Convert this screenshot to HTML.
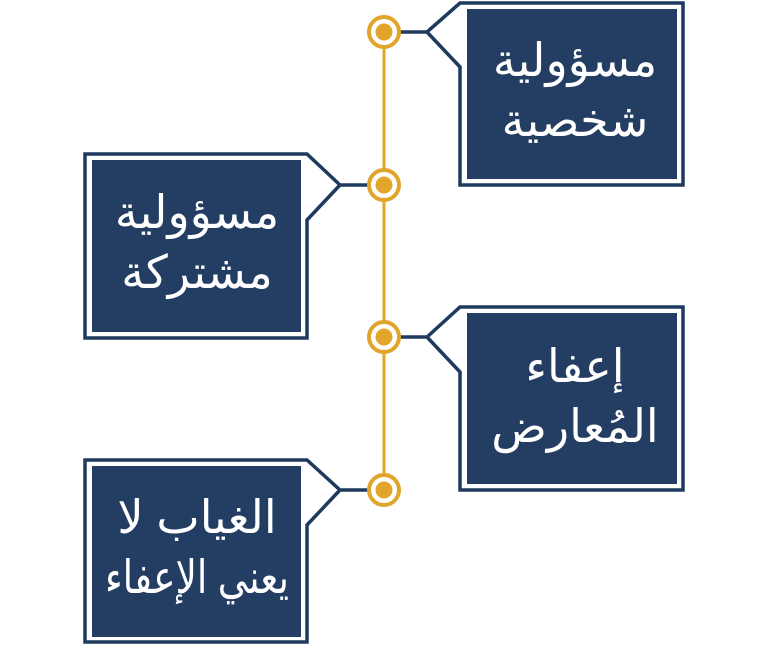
<!DOCTYPE html>
<html><head><meta charset="utf-8"><style>
body{margin:0;background:#fff;width:768px;height:644px;overflow:hidden}
svg text{font-family:"Liberation Sans","Noto Sans CJK SC","DejaVu Sans",sans-serif;fill:#fff;font-size:46px;text-anchor:middle}
</style></head><body>
<svg width="768" height="644" viewBox="0 0 768 644">
<line x1="384" y1="32" x2="384" y2="490" stroke="#E0A52A" stroke-width="3"/>
<g fill="none" stroke="#1F3A5F" stroke-width="3.5" stroke-linejoin="miter">
<path d="M398 32H427L460 3H683V185H460V67L427 32"/>
<path d="M370 185H340L307 154H85V338H307V220L340 185"/>
<path d="M398 337H427L460 307H683V490H460V372L427 337"/>
<path d="M370 490H340L307 460H85V642H307V525L340 490"/>
</g>
<g fill="#243D63">
<rect x="467" y="9" width="210" height="170"/>
<rect x="92" y="160" width="209" height="172"/>
<rect x="467" y="313" width="210" height="171"/>
<rect x="92" y="466" width="209" height="171"/>
</g>
<g fill="#fff" stroke="#E0A52A" stroke-width="4">
<circle cx="384" cy="32" r="15"/><circle cx="384" cy="185" r="15"/><circle cx="384" cy="337" r="15"/><circle cx="384" cy="490" r="15"/>
</g>
<g fill="#E0A52A">
<circle cx="384" cy="32" r="8.5"/><circle cx="384" cy="185" r="8.5"/><circle cx="384" cy="337" r="8.5"/><circle cx="384" cy="490" r="8.5"/>
</g>
<text x="575" y="76">مسؤولية</text><text x="575" y="136">شخصية</text>
<text x="197" y="228">مسؤولية</text><text x="197" y="288">مشتركة</text>
<text x="575" y="382">إعفاء</text><text x="575" y="442">المُعارض</text>
<text x="197" y="533">الغياب لا</text><text x="197" y="593" textLength="184" lengthAdjust="spacingAndGlyphs">يعني الإعفاء</text>
</svg>
</body></html>
